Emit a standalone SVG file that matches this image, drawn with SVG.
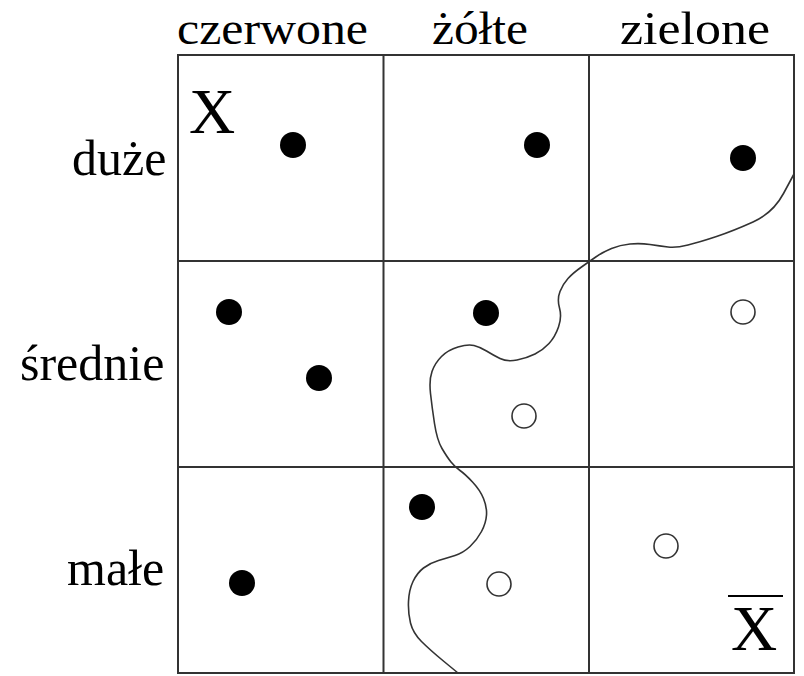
<svg xmlns="http://www.w3.org/2000/svg" width="804" height="676" viewBox="0 0 804 676">
<style>
.lbl{font-family:"Liberation Serif","Times New Roman",serif;font-size:50px;fill:#000}
.top{font-family:"Liberation Serif","Times New Roman",serif;font-size:46px;fill:#000}
.big{font-family:"Liberation Serif","Times New Roman",serif;font-size:64px;fill:#000}
.grid{fill:none;stroke:#333;stroke-width:2}
.full{fill:#000}
.empty{fill:#fff;stroke:#333;stroke-width:1.6}
.curve{fill:none;stroke:#333;stroke-width:1.6;stroke-linecap:round;stroke-linejoin:round}
</style>
<rect width="804" height="676" fill="#fff"/>
<g id="grid">
<rect class="grid" x="178" y="55" width="616" height="618"/>
<line class="grid" x1="383.5" y1="55" x2="383.5" y2="673"/>
<line class="grid" x1="589" y1="55" x2="589" y2="673"/>
<line class="grid" x1="178" y1="261" x2="794" y2="261"/>
<line class="grid" x1="178" y1="467" x2="794" y2="467"/>
</g>
<g id="col-labels">
<text class="top" x="177" y="44" textLength="191" lengthAdjust="spacingAndGlyphs">czerwone</text>
<text class="top" x="432" y="44" textLength="96" lengthAdjust="spacingAndGlyphs">żółte</text>
<text class="top" x="620" y="44" textLength="150" lengthAdjust="spacingAndGlyphs">zielone</text>
</g>
<g id="row-labels">
<text class="lbl" x="72" y="175">duże</text>
<text class="lbl" x="20" y="380">średnie</text>
<text class="lbl" x="67" y="585">małe</text>
</g>
<g id="set-X">
<text class="big" x="189" y="133">X</text>
</g>
<g id="set-notX">
<text class="big" x="731" y="650">X</text>
<line x1="728" y1="596" x2="783" y2="596" stroke="#000" stroke-width="2"/>
</g>
<g id="points">
<circle class="full" cx="293" cy="145" r="13"/>
<circle class="full" cx="537" cy="145" r="13"/>
<circle class="full" cx="743" cy="158" r="13"/>
<circle class="full" cx="229" cy="312" r="13"/>
<circle class="full" cx="319" cy="378" r="13"/>
<circle class="full" cx="486" cy="313" r="13"/>
<circle class="empty" cx="524" cy="416" r="12"/>
<circle class="empty" cx="743" cy="312" r="12"/>
<circle class="full" cx="422" cy="507" r="13"/>
<circle class="empty" cx="499" cy="584" r="12"/>
<circle class="empty" cx="666" cy="546" r="12"/>
<circle class="full" cx="242" cy="583" r="13"/>
</g>
<g id="connectors">
<path class="curve" d="M794,174 L783.5,193.5 Q773,213 753,222 Q733,231 716.5,236.5 Q700,242 688,245 Q676,248 668,247 Q660,246 650,244.5 Q640,243 630,244 Q620,245 611.5,248.5 Q603,252 596.5,256.5 Q590,261 581.5,267 Q573,273 568,278.5 Q563,284 560,291.5 Q557,299 559.5,308 Q562,317 558.5,327 Q555,337 549,343.5 Q543,350 535,354 Q527,358 517,360 Q507,362 500,358.5 Q493,355 486.5,351 Q480,347 474,345.5 Q468,344 458,347 Q448,350 441.5,356.5 Q435,363 432,371.5 Q429,380 430.5,393.5 Q432,407 434.5,423.5 Q437,440 442,448.5 Q447,457 451,462 Q455,467 460,470.5 Q465,474 472.5,482 Q480,490 483.5,498.5 Q487,507 486.5,515 Q486,523 481.5,531.5 Q477,540 470,546.5 Q463,553 455,555.5 Q447,558 438.5,560.5 Q430,563 423.5,568 Q417,573 413,581.5 Q409,590 408.5,601.5 Q408,613 410.5,623 Q413,633 421.5,641.5 Q430,650 444,661.5 L458,673"/>
</g>
</svg>
